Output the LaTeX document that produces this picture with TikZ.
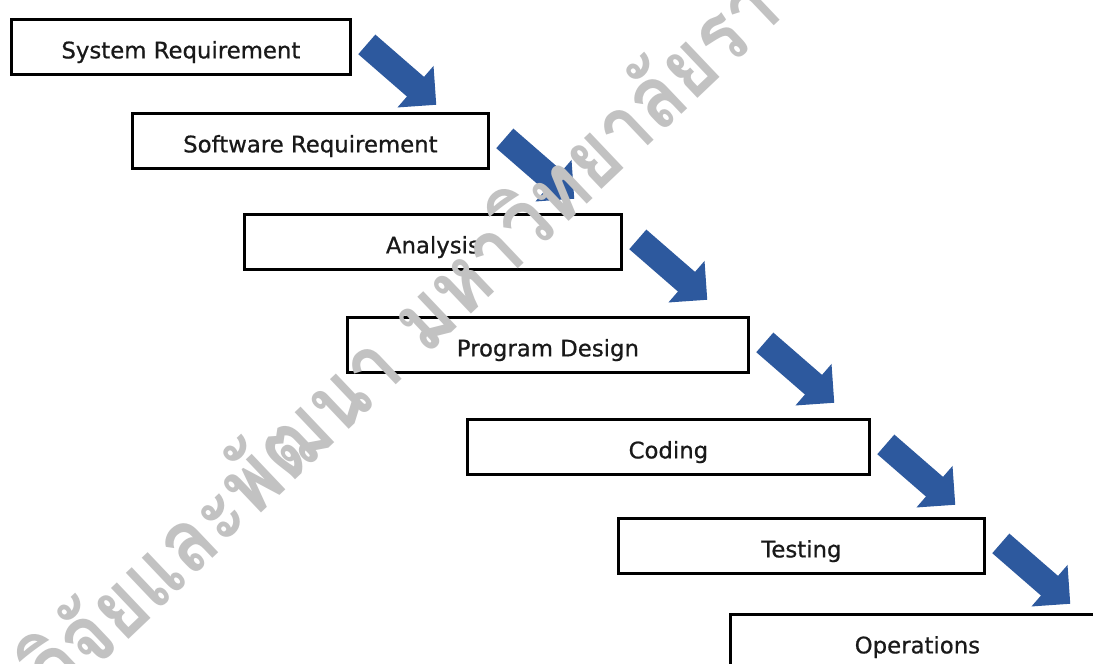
\documentclass[tikz,border=0pt]{standalone}
\usepackage{fontspec}
\usetikzlibrary{calc}
\newfontfamily\stagefont[FakeBold=0.7]{DejaVu Sans}
\newfontfamily\thaimark[Script=Thai]{Loma}
\definecolor{flowblue}{RGB}{45,89,158}
\definecolor{inkgray}{RGB}{25,25,25}
\definecolor{markgray}{RGB}{194,194,194}

% block arrow leaving the right side of a stage box, pointing down-right
\newcommand\flowarrow[1]{%
  \path (#1.east) ++(15,2.5) coordinate (#1-tail) ++(-41:92) coordinate (#1-tip);
  \path ($(#1-tail)!64.5pt!(#1-tip)$) coordinate (#1-neck);
  \fill[flow] ($(#1-tail)!13pt!90:(#1-tip)$) -- ($(#1-neck)!13pt!90:(#1-tip)$)
    -- ($(#1-neck)!27.5pt!90:(#1-tip)$) -- (#1-tip)
    -- ($(#1-neck)!27.5pt!-90:(#1-tip)$) -- ($(#1-neck)!13pt!-90:(#1-tip)$)
    -- ($(#1-tail)!13pt!-90:(#1-tip)$) -- cycle;
}

\begin{document}
\begin{tikzpicture}[x=1pt,y=1pt,
  stage/.style={draw=black, line width=2.8pt, fill=white, anchor=north west,
    minimum height=55pt, inner sep=0pt, text=inkgray,
    font=\stagefont\fontsize{22.8}{27}\selectfont, text height=23pt, text depth=0pt},
  flow/.style={fill=flowblue, draw=none},
  wmark/.style={font=\thaimark\bfseries\fontsize{88}{90}\selectfont, text=markgray,
    inner sep=0pt, transform shape}]
\useasboundingbox (0,0) rectangle (1093,664);
\clip (0,0) rectangle (1093,664);
\fill[white] (0,0) rectangle (1093,664);

% the seven stages of the waterfall
\node[stage, minimum width=339pt] (sys)  at (10,646)  {System Requirement};
\node[stage, minimum width=356pt] (soft) at (131,552) {Software Requirement};
\node[stage, minimum width=377pt] (ana)  at (243,451) {Analysis};
\node[stage, minimum width=401pt] (des)  at (346,348) {Program Design};
\node[stage, minimum width=402pt] (cod)  at (466,246) {Coding};
\node[stage, minimum width=366pt] (tst)  at (617,147) {Testing};
\node[stage, minimum width=374pt] (ops)  at (729,51)  {Operations};

% arrows stepping down from each stage to the next
\flowarrow{sys}
\flowarrow{soft}
\flowarrow{ana}
\flowarrow{des}
\flowarrow{cod}
\flowarrow{tst}

% diagonal watermark, multiplied over everything below it
\begin{scope}[blend group=multiply]
\begin{scope}[shift={(60,-40)}, rotate=43.5, xscale=0.86]
  \node[wmark, anchor=base west] (wm) at (0,0) {วิจัยและพัฒนา มหาวิทยาลัยรา};
\end{scope}
\end{scope}
\end{tikzpicture}
\end{document}
